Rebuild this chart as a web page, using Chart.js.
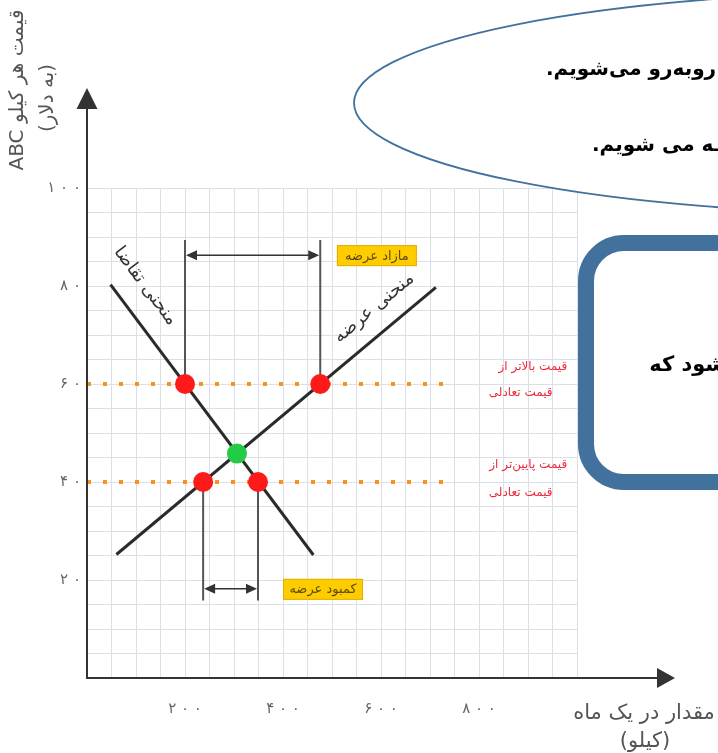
<!DOCTYPE html>
<html>
<head>
<meta charset="utf-8">
<script src="https://cdn.jsdelivr.net/npm/chart.js@4.4.1/dist/chart.umd.min.js"></script>
<style>
  html, body { margin: 0; padding: 0; background: #fff; }
  canvas { display: block; }
</style>
</head>
<body>
<canvas id="supplyDemand" width="718" height="753"></canvas>
<script>
// ---- axis ticks ----
const xTickValues = [200, 400, 600, 800];
const xTickLabels = ['۲۰۰', '۴۰۰', '۶۰۰', '۸۰۰'];
const yTickValues = [20, 40, 60, 80, 100];
const yTickLabels = ['۲۰', '۴۰', '۶۰', '۸۰', '۱۰۰'];

// ---- curves (quantity, price) ----
const supplyX = [60, 712];
const supplyY = [25.2, 79.7];
const demandX = [48, 462];
const demandY = [80.3, 25.1];

// ---- price levels (dotted) ----
const priceLevels = [60, 40];
const priceLineX = [0, 745];

// ---- marked points ----
const redX = [200, 476, 237, 349];
const redY = [60, 60, 40, 40];
const eqX = [306];
const eqY = [45.8];

// ---- surplus (above) / shortage (below) brackets ----
const surplusX = [200, 476];
const surplusSpan = [60, 89.4];
const surplusArrowY = 86.3;
const shortageX = [237, 349];
const shortageSpan = [40, 15.8];
const shortageArrowY = 18.2;

// ---- texts ----
const surplusLabel = 'مازاد عرضه';
const shortageLabel = 'کمبود عرضه';
const demandLabel = 'منحنی تقاضا';
const supplyLabel = 'منحنی عرضه';
const highPriceLines = ['قیمت بالاتر از', 'قیمت تعادلی'];
const lowPriceLines = ['قیمت پایین‌تر از', 'قیمت تعادلی'];
const yTitle = ['قیمت هر کیلو ABC', '(به دلار)'];
const xTitle = ['مقدار در یک ماه', '(کیلو)'];

const FONT = 'DejaVu Sans';
const spaced = s => s.split('').join(' ');
const pts = (xs, ys) => xs.map((v, i) => ({ x: v, y: ys[i] }));

function arrowHead(ctx, tx, ty, angle, len, half) {
    ctx.save();
    ctx.translate(tx, ty);
    ctx.rotate(angle);
    ctx.beginPath();
    ctx.moveTo(0, 0);
    ctx.lineTo(-len, -half);
    ctx.lineTo(-len, half);
    ctx.closePath();
    ctx.fill();
    ctx.restore();
}

function rtlText(ctx, text, x, y, align, font, color) {
    ctx.direction = 'rtl';
    ctx.textAlign = align;
    ctx.textBaseline = 'middle';
    ctx.font = font;
    ctx.fillStyle = color;
    ctx.fillText(text, x, y);
}

const decor = {
    id: 'decor',
    afterDatasetsDraw(chart) {
        const { ctx, scales: { x, y } } = chart;
        const ox = x.getPixelForValue(0);
        const oy = y.getPixelForValue(0);
        ctx.save();

        // axes with arrows
        ctx.strokeStyle = '#333';
        ctx.fillStyle = '#333';
        ctx.lineWidth = 2;
        ctx.beginPath();
        ctx.moveTo(ox, oy + 1);
        ctx.lineTo(ox, y.getPixelForValue(118));
        ctx.moveTo(ox - 1, oy);
        ctx.lineTo(x.getPixelForValue(1170), oy);
        ctx.stroke();
        arrowHead(ctx, ox, y.getPixelForValue(120.4), -Math.PI / 2, 21, 10.5);
        arrowHead(ctx, x.getPixelForValue(1200), oy, 0, 18, 10);

        // bracket arrows
        ctx.lineWidth = 1.5;
        [[surplusX, surplusArrowY], [shortageX, shortageArrowY]].forEach(([xs, v]) => {
            const x1 = x.getPixelForValue(xs[0]);
            const x2 = x.getPixelForValue(xs[1]);
            const py = y.getPixelForValue(v);
            ctx.beginPath();
            ctx.moveTo(x1 + 4, py);
            ctx.lineTo(x2 - 4, py);
            ctx.stroke();
            arrowHead(ctx, x1 + 1, py, Math.PI, 11, 5);
            arrowHead(ctx, x2 - 1, py, 0, 11, 5);
        });

        // yellow tags
        [[surplusLabel, 510, surplusArrowY], [shortageLabel, 400, shortageArrowY]].forEach(([t, vx, vy]) => {
            const px = x.getPixelForValue(vx);
            const py = y.getPixelForValue(vy);
            ctx.fillStyle = '#ffcc00';
            ctx.fillRect(px, py - 10, 80, 21);
            ctx.strokeStyle = '#e0b000';
            ctx.lineWidth = 1;
            ctx.strokeRect(px + 0.5, py - 9.5, 79, 20);
            rtlText(ctx, t, px + 40, py + 1, 'center', `13px "${FONT}"`, '#5a4a10');
        });

        // curve labels, rotated along the curves
        const along = (xs, ys, lx, ly, text) => {
            const a = Math.atan2(y.getPixelForValue(ys[1]) - y.getPixelForValue(ys[0]),
                x.getPixelForValue(xs[1]) - x.getPixelForValue(xs[0]));
            ctx.save();
            ctx.translate(x.getPixelForValue(lx), y.getPixelForValue(ly));
            ctx.rotate(a);
            rtlText(ctx, text, 0, 0, 'center', `18px "${FONT}"`, '#333');
            ctx.restore();
        };
        along(demandX, demandY, 119, 80, demandLabel);
        along(supplyX, supplyY, 586, 75.5, supplyLabel);

        // red notes beside the dotted price lines
        const red = '#ee2a3a';
        const nx1 = x.getPixelForValue(980);
        const nx2 = x.getPixelForValue(950);
        const hy = y.getPixelForValue(priceLevels[0]);
        const ly = y.getPixelForValue(priceLevels[1]);
        rtlText(ctx, highPriceLines[0], nx1, hy - 17, 'right', `12px "${FONT}"`, red);
        rtlText(ctx, highPriceLines[1], nx2, hy + 9, 'right', `12px "${FONT}"`, red);
        rtlText(ctx, lowPriceLines[0], nx1, ly - 17, 'right', `12px "${FONT}"`, red);
        rtlText(ctx, lowPriceLines[1], nx2, ly + 11, 'right', `12px "${FONT}"`, red);

        // axis titles
        ctx.save();
        ctx.translate(18, 90);
        ctx.rotate(-Math.PI / 2);
        rtlText(ctx, yTitle[0], 0, 0, 'center', `20px "${FONT}"`, '#555');
        ctx.restore();
        ctx.save();
        ctx.translate(48, 98);
        ctx.rotate(-Math.PI / 2);
        rtlText(ctx, yTitle[1], 0, 0, 'center', `20px "${FONT}"`, '#555');
        ctx.restore();
        rtlText(ctx, xTitle[0], 644, 714, 'center', `21px "${FONT}"`, '#555');
        rtlText(ctx, xTitle[1], 645, 742, 'center', `21px "${FONT}"`, '#555');

        ctx.restore();
    },
    afterDraw(chart) {
        const { ctx } = chart;
        ctx.save();
        // slide callout (ellipse), mostly off the canvas
        ctx.beginPath();
        ctx.ellipse(908, 103, 554, 111, 0, 0, Math.PI * 2);
        ctx.fillStyle = '#fff';
        ctx.fill();
        ctx.strokeStyle = '#41719c';
        ctx.lineWidth = 1.8;
        ctx.stroke();
        rtlText(ctx, 'روبه‌رو می‌شویم.', 546, 70, 'left', `bold 20px "${FONT}"`, '#000');
        rtlText(ctx, 'مواجـه می شویم.', 592, 146, 'left', `bold 20px "${FONT}"`, '#000');

        // slide box with thick border
        ctx.beginPath();
        ctx.roundRect(586, 243, 300, 239, 38);
        ctx.fillStyle = '#fff';
        ctx.fill();
        ctx.strokeStyle = '#41719c';
        ctx.lineWidth = 16;
        ctx.stroke();
        rtlText(ctx, 'شود که', 726, 366, 'right', `bold 21px "${FONT}"`, '#000');
        ctx.restore();
    }
};

const lineSet = (data, color, width, extra = {}) => Object.assign({
    data, showLine: true, borderColor: color, borderWidth: width,
    pointRadius: 0, fill: false, tension: 0
}, extra);

new Chart(document.getElementById('supplyDemand'), {
    type: 'scatter',
    data: {
        datasets: [
            { data: pts(eqX, eqY), pointRadius: 10, pointBackgroundColor: '#22cc44', pointBorderWidth: 0, order: 0 },
            { data: pts(redX, redY), pointRadius: 10, pointBackgroundColor: '#ff1a1a', pointBorderWidth: 0, order: 1 },
            lineSet(pts(supplyX, supplyY), '#2b2b2b', 3, { order: 2 }),
            lineSet(pts(demandX, demandY), '#2b2b2b', 3, { order: 3 }),
            ...priceLevels.map(p => lineSet(pts(priceLineX, [p, p]), '#f7941d', 4,
                { borderDash: [4, 12], order: 5 })),
            ...surplusX.map(v => lineSet(pts([v, v], surplusSpan), '#555', 2, { order: 4 })),
            ...shortageX.map(v => lineSet(pts([v, v], shortageSpan), '#555', 2, { order: 4 }))
        ]
    },
    options: {
        responsive: false,
        animation: false,
        layout: { padding: { left: 0, top: 188, right: 141, bottom: 0 } },
        plugins: { legend: { display: false }, tooltip: { enabled: false } },
        scales: {
            x: {
                type: 'linear', min: 0, max: 1000,
                afterFit: s => { s.height = 75; },
                border: { display: false },
                grid: { color: '#dcdfe8', lineWidth: 1, drawTicks: false },
                ticks: {
                    stepSize: 50, autoSkip: false, maxRotation: 0, padding: 22,
                    color: '#666', font: { family: FONT, size: 15 },
                    callback: v => {
                        const i = xTickValues.indexOf(v);
                        return i >= 0 ? spaced(xTickLabels[i]) : '';
                    }
                }
            },
            y: {
                type: 'linear', min: 0, max: 100,
                afterFit: s => { s.width = 87; },
                border: { display: false },
                grid: { color: '#dcdfe8', lineWidth: 1, drawTicks: false },
                ticks: {
                    stepSize: 5, autoSkip: false, padding: 6,
                    color: '#666', font: { family: FONT, size: 15 },
                    callback: v => {
                        const i = yTickValues.indexOf(v);
                        return i >= 0 ? spaced(yTickLabels[i]) : '';
                    }
                }
            }
        }
    },
    plugins: [decor]
});
</script>
</body>
</html>
